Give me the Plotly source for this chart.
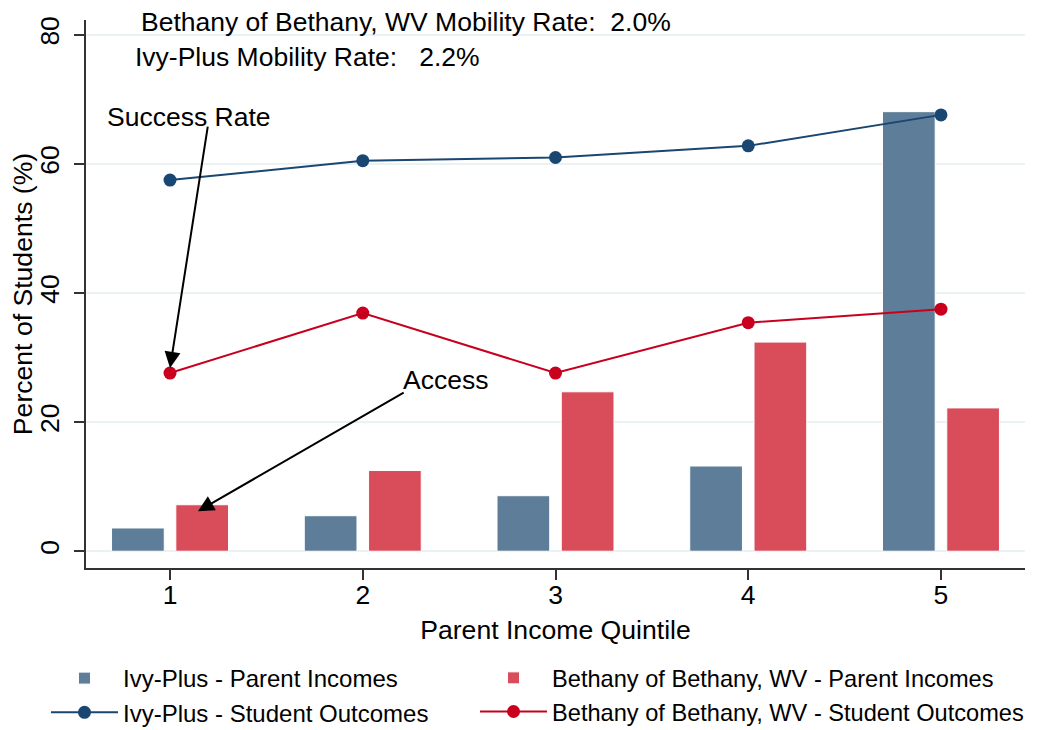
import plotly.graph_objects as go

quintiles = [1, 2, 3, 4, 5]
ivy_parent = [3.6, 5.5, 8.6, 13.2, 68.1]
beth_parent = [7.2, 12.5, 24.7, 32.4, 22.2]
ivy_outcome = [57.5, 60.5, 61.0, 62.8, 67.6]
beth_outcome = [27.6, 36.9, 27.6, 35.4, 37.5]
y_ticks = [0, 20, 40, 60, 80]

FONT = "Liberation Sans, Arial, sans-serif"
IVY_BAR = "#5e7d99"
BETH_BAR = "#d94d5b"
IVY_LINE = "#1a4672"
BETH_LINE = "#c8001e"
GRID = "#eaf2f3"

fig = go.Figure()
fig.add_trace(go.Bar(x=quintiles, y=ivy_parent, name="Ivy-Plus - Parent Incomes",
                     legend="legend",
                     marker=dict(color=IVY_BAR, line=dict(color="white", width=1))))
fig.add_trace(go.Bar(x=quintiles, y=beth_parent, name="Bethany of Bethany, WV - Parent Incomes",
                     legend="legend2",
                     marker=dict(color=BETH_BAR, line=dict(color="white", width=1))))
fig.add_trace(go.Scatter(x=quintiles, y=ivy_outcome, mode="lines+markers",
                         name="Ivy-Plus - Student Outcomes", legend="legend",
                         line=dict(color=IVY_LINE, width=2),
                         marker=dict(color=IVY_LINE, size=13)))
fig.add_trace(go.Scatter(x=quintiles, y=beth_outcome, mode="lines+markers",
                         name="Bethany of Bethany, WV - Student Outcomes", legend="legend2",
                         line=dict(color=BETH_LINE, width=2),
                         marker=dict(color=BETH_LINE, size=13)))

NB = "\u00a0"
anns = [
    dict(x=0.84, y=82.0, xref="x", yref="y", xanchor="left", yanchor="middle",
         text="Bethany of Bethany, WV Mobility Rate:" + NB * 2 + "2.0%", showarrow=False),
    dict(x=0.81, y=76.6, xref="x", yref="y", xanchor="left", yanchor="middle",
         text="Ivy-Plus Mobility Rate:" + NB * 3 + "2.2%", showarrow=False),
    dict(x=1.098, y=67.3, xref="x", yref="y", text="Success Rate", showarrow=False),
    dict(x=2.427, y=26.5, xref="x", yref="y", text="Access", showarrow=False),
    dict(x=1.0, y=28.4, xref="x", yref="y", ax=1.197, ay=66.0, axref="x", ayref="y",
         text="", showarrow=True, arrowhead=2, arrowsize=1.6, arrowwidth=2, arrowcolor="black"),
    dict(x=1.145, y=6.2, xref="x", yref="y", ax=2.22, ay=24.7, axref="x", ayref="y",
         text="", showarrow=True, arrowhead=2, arrowsize=1.6, arrowwidth=2, arrowcolor="black"),
]

legend_style = dict(orientation="v", xanchor="left", yanchor="top",
                    itemwidth=67, bgcolor="rgba(0,0,0,0)")

fig.update_layout(
    width=1029, height=722,
    margin=dict(l=78, r=12, t=12, b=162, autoexpand=False),
    paper_bgcolor="white", plot_bgcolor="white",
    font=dict(family=FONT, size=26.5, color="black"),
    barmode="group", bargap=0.333, bargroupgap=0.18,
    annotations=anns,
    showlegend=True,
    legend=dict(x=-0.0426, y=-0.1606, font=dict(size=24), **legend_style),
    legend2=dict(x=0.4143, y=-0.1606, font=dict(size=23.6), **legend_style),
    xaxis=dict(range=[0.564, 5.436], tickvals=quintiles, ticktext=[str(q) for q in quintiles],
               showgrid=False, zeroline=False, showline=True, linecolor="#333", linewidth=2,
               ticks="outside", ticklen=10, tickwidth=2, tickcolor="#333", automargin=False,
               ticklabelstandoff=-8,
               title=dict(text="Parent Income Quintile", standoff=12, font=dict(size=26.6))),
    yaxis=dict(range=[-2.6, 82.3], tickvals=y_ticks, showgrid=True, gridcolor=GRID, gridwidth=2,
               zeroline=False, showline=True, linecolor="#333", linewidth=2,
               ticks="outside", ticklen=10, tickwidth=2, tickcolor="#333", tickangle=-90,
               automargin=False, ticklabelstandoff=4,
               title=dict(text="Percent of Students (%)", standoff=0, font=dict(size=26.6))),
)

fig.write_html("out.html")
